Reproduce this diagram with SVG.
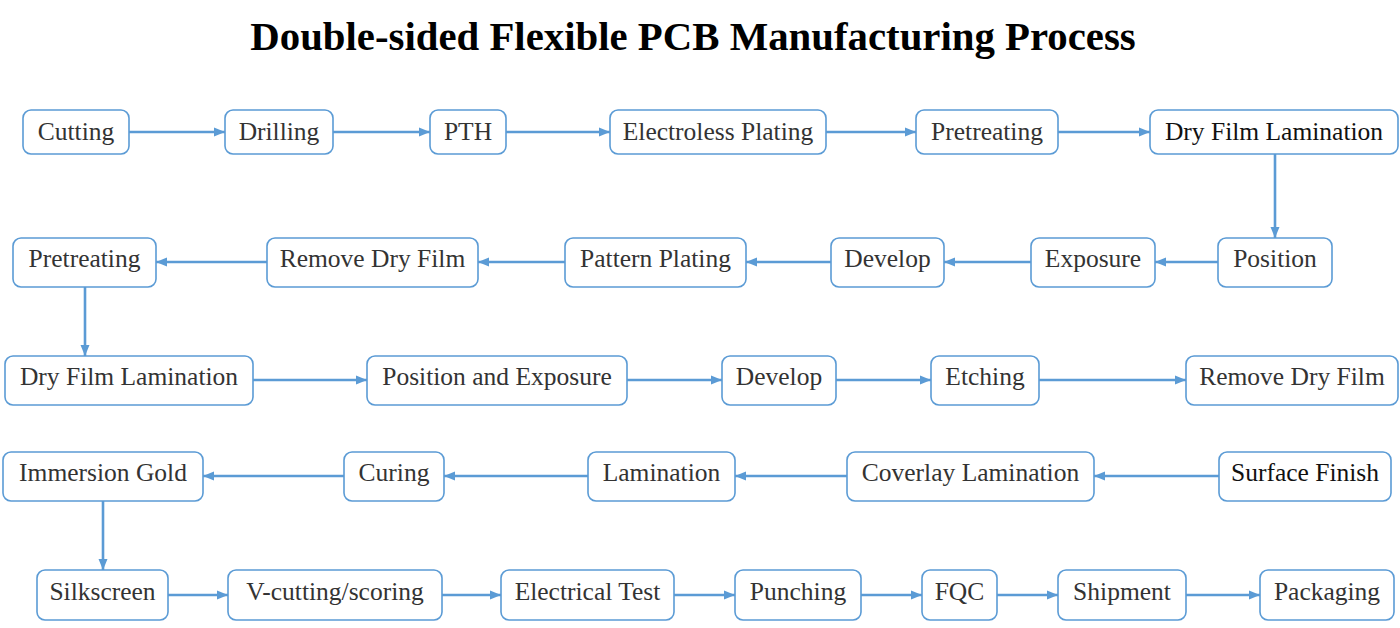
<svg xmlns="http://www.w3.org/2000/svg" width="1400" height="628" viewBox="0 0 1400 628">
<defs>
<marker id="ah" markerUnits="userSpaceOnUse" markerWidth="12" markerHeight="10" refX="11" refY="5" orient="auto">
<path d="M0,0.5 L11,5 L0,9.5 Z" fill="#5B9BD5"/>
</marker>
<style>
.b rect{fill:#fff;stroke:#5B9BD5;stroke-width:1.6}
.b text{font-family:"Liberation Serif","DejaVu Serif",serif;font-size:25.5px;fill:#333;text-anchor:middle}
.b text.k{fill:#111}
#connectors line{stroke:#5B9BD5;stroke-width:2.6;marker-end:url(#ah)}
.title{font-family:"Liberation Serif","DejaVu Serif",serif;font-size:40.8px;font-weight:bold;fill:#000;text-anchor:middle}
</style>
</defs>
<rect width="1400" height="628" fill="#fff"/>
<text class="title" x="693" y="50">Double-sided Flexible PCB Manufacturing Process</text>
<g id="connectors">
<line x1="129" y1="132" x2="225" y2="132"/>
<line x1="333" y1="132" x2="430" y2="132"/>
<line x1="506" y1="132" x2="610" y2="132"/>
<line x1="826" y1="132" x2="916" y2="132"/>
<line x1="1058" y1="132" x2="1150" y2="132"/>
<line x1="1275" y1="154" x2="1275" y2="238"/>
<line x1="1218" y1="262" x2="1155" y2="262"/>
<line x1="1031" y1="262" x2="944" y2="262"/>
<line x1="831" y1="262" x2="746" y2="262"/>
<line x1="565" y1="262" x2="478" y2="262"/>
<line x1="267" y1="262" x2="156" y2="262"/>
<line x1="85" y1="287" x2="85" y2="356"/>
<line x1="253" y1="380" x2="367" y2="380"/>
<line x1="627" y1="380" x2="722" y2="380"/>
<line x1="836" y1="380" x2="931" y2="380"/>
<line x1="1039" y1="380" x2="1186" y2="380"/>
<line x1="1219" y1="476" x2="1094" y2="476"/>
<line x1="847" y1="476" x2="735" y2="476"/>
<line x1="588" y1="476" x2="444" y2="476"/>
<line x1="344" y1="476" x2="203" y2="476"/>
<line x1="103" y1="501" x2="103" y2="570"/>
<line x1="168" y1="595" x2="228" y2="595"/>
<line x1="442" y1="595" x2="501" y2="595"/>
<line x1="674" y1="595" x2="735" y2="595"/>
<line x1="861" y1="595" x2="922" y2="595"/>
<line x1="997" y1="595" x2="1058" y2="595"/>
<line x1="1186" y1="595" x2="1260" y2="595"/>
</g>
<g id="n1" class="b"><rect x="23" y="110" width="106" height="44" rx="8"/><text x="76" y="140">Cutting</text></g>
<g id="n2" class="b"><rect x="225" y="110" width="108" height="44" rx="8"/><text x="279" y="140">Drilling</text></g>
<g id="n3" class="b"><rect x="430" y="110" width="76" height="44" rx="8"/><text x="468" y="140">PTH</text></g>
<g id="n4" class="b"><rect x="610" y="110" width="216" height="44" rx="8"/><text x="718" y="140">Electroless Plating</text></g>
<g id="n5" class="b"><rect x="916" y="110" width="142" height="44" rx="8"/><text x="987" y="140">Pretreating</text></g>
<g id="n6" class="b"><rect x="1150" y="110" width="248" height="44" rx="8"/><text class="k" x="1274" y="140">Dry Film Lamination</text></g>
<g id="n7" class="b"><rect x="1218" y="238" width="114" height="49" rx="8"/><text x="1275" y="267">Position</text></g>
<g id="n8" class="b"><rect x="1031" y="238" width="124" height="49" rx="8"/><text x="1093" y="267">Exposure</text></g>
<g id="n9" class="b"><rect x="831" y="238" width="113" height="49" rx="8"/><text x="887.5" y="267">Develop</text></g>
<g id="n10" class="b"><rect x="565" y="238" width="181" height="49" rx="8"/><text x="655.5" y="267">Pattern Plating</text></g>
<g id="n11" class="b"><rect x="267" y="238" width="211" height="49" rx="8"/><text x="372.5" y="267">Remove Dry Film</text></g>
<g id="n12" class="b"><rect x="13" y="238" width="143" height="49" rx="8"/><text x="84.5" y="267">Pretreating</text></g>
<g id="n13" class="b"><rect x="5" y="356" width="248" height="49" rx="8"/><text x="129" y="385">Dry Film Lamination</text></g>
<g id="n14" class="b"><rect x="367" y="356" width="260" height="49" rx="8"/><text x="497" y="385">Position and Exposure</text></g>
<g id="n15" class="b"><rect x="722" y="356" width="114" height="49" rx="8"/><text x="779" y="385">Develop</text></g>
<g id="n16" class="b"><rect x="931" y="356" width="108" height="49" rx="8"/><text x="985" y="385">Etching</text></g>
<g id="n17" class="b"><rect x="1186" y="356" width="212" height="49" rx="8"/><text x="1292" y="385">Remove Dry Film</text></g>
<g id="n18" class="b"><rect x="1219" y="452" width="172" height="49" rx="8"/><text class="k" x="1305" y="481">Surface Finish</text></g>
<g id="n19" class="b"><rect x="847" y="452" width="247" height="49" rx="8"/><text x="970.5" y="481">Coverlay Lamination</text></g>
<g id="n20" class="b"><rect x="588" y="452" width="147" height="49" rx="8"/><text x="661.5" y="481">Lamination</text></g>
<g id="n21" class="b"><rect x="344" y="452" width="100" height="49" rx="8"/><text x="394" y="481">Curing</text></g>
<g id="n22" class="b"><rect x="3" y="452" width="200" height="49" rx="8"/><text x="103" y="481">Immersion Gold</text></g>
<g id="n23" class="b"><rect x="37" y="570" width="131" height="50" rx="8"/><text x="102.5" y="599.5">Silkscreen</text></g>
<g id="n24" class="b"><rect x="228" y="570" width="214" height="50" rx="8"/><text x="335" y="599.5">V-cutting/scoring</text></g>
<g id="n25" class="b"><rect x="501" y="570" width="173" height="50" rx="8"/><text x="587.5" y="599.5">Electrical Test</text></g>
<g id="n26" class="b"><rect x="735" y="570" width="126" height="50" rx="8"/><text x="798" y="599.5">Punching</text></g>
<g id="n27" class="b"><rect x="922" y="570" width="75" height="50" rx="8"/><text x="959.5" y="599.5">FQC</text></g>
<g id="n28" class="b"><rect x="1058" y="570" width="128" height="50" rx="8"/><text x="1122" y="599.5">Shipment</text></g>
<g id="n29" class="b"><rect x="1260" y="570" width="134" height="50" rx="8"/><text x="1327" y="599.5">Packaging</text></g>
</svg>
